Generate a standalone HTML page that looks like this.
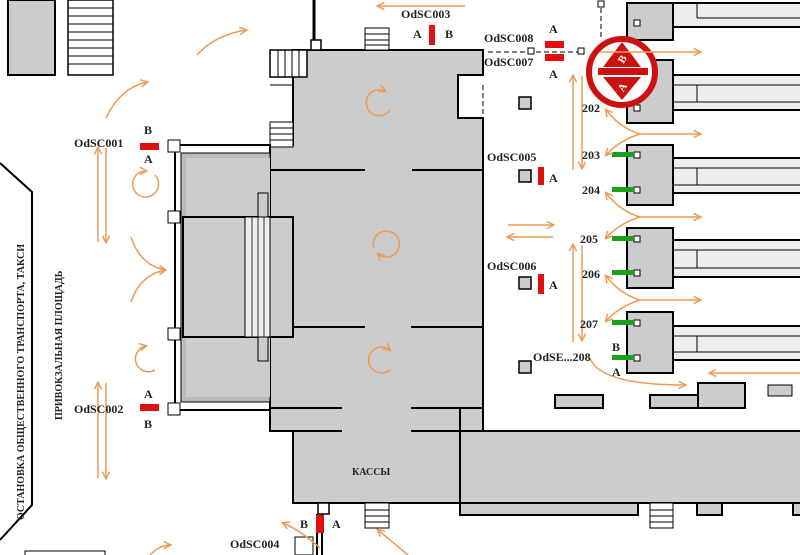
<!DOCTYPE html>
<html><head><meta charset="utf-8"><style>
html,body{margin:0;padding:0;background:#fff;width:800px;height:555px;overflow:hidden}
text{font-family:"Liberation Serif","DejaVu Serif",serif;font-weight:bold;fill:#222}
</style></head><body>
<svg width="800" height="555" viewBox="0 0 800 555" xmlns="http://www.w3.org/2000/svg">
<defs>
<marker id="ah" viewBox="0 0 10 10" refX="8" refY="5" markerWidth="6" markerHeight="6" orient="auto-start-reverse"><path d="M1,1 L9,5 L1,9" fill="none" stroke="#ee9a55" stroke-width="1.6"/></marker>
</defs>
<g stroke="#000" stroke-width="2">
<!-- top-left -->
<rect x="8" y="0" width="47" height="75" fill="#ccc"/>
<rect x="68" y="0" width="45" height="75" fill="#fff" stroke-width="1.5"/>
<g stroke-width="1">
<line x1="68" y1="8" x2="113" y2="8"/><line x1="68" y1="16" x2="113" y2="16"/><line x1="68" y1="24" x2="113" y2="24"/><line x1="68" y1="32" x2="113" y2="32"/><line x1="68" y1="40" x2="113" y2="40"/><line x1="68" y1="48" x2="113" y2="48"/><line x1="68" y1="56" x2="113" y2="56"/><line x1="68" y1="64" x2="113" y2="64"/></g>
<polyline points="0,163 32,192 32,505 0,540" fill="none"/>
<!-- main building -->
<polygon points="293,50 483,50 483,75 458,75 458,118 483,118 483,431 460,431 460,503 293,503 293,431 270,431 270,145 293,145" fill="#ccc"/>
<!-- lower right block -->
<rect x="460" y="431" width="345" height="72" fill="#ccc"/>
<line x1="460" y1="408" x2="460" y2="503"/>
<rect x="460" y="503" width="178" height="12" fill="#ccc"/>
<rect x="697" y="503" width="25" height="12" fill="#ccc"/>
<rect x="793" y="503" width="10" height="12" fill="#ccc"/>
<!-- interior lines -->
<line x1="270" y1="170" x2="365" y2="170"/><line x1="412" y1="170" x2="483" y2="170"/>
<line x1="293" y1="327" x2="365" y2="327"/><line x1="411" y1="327" x2="483" y2="327"/>
<line x1="270" y1="408" x2="342" y2="408"/><line x1="411" y1="408" x2="483" y2="408"/>
<line x1="270" y1="431" x2="342" y2="431"/><line x1="411" y1="431" x2="460" y2="431"/>
<!-- top stairs of building -->
<rect x="270" y="50" width="37" height="27" fill="#fff" stroke-width="1.5"/>
<g stroke-width="1"><line x1="278" y1="50" x2="278" y2="77"/><line x1="285" y1="50" x2="285" y2="77"/><line x1="292" y1="50" x2="292" y2="77"/><line x1="299" y1="50" x2="299" y2="77"/><line x1="270" y1="85" x2="293" y2="85"/></g>
<rect x="270" y="122" width="23" height="25" fill="#fff" stroke-width="1"/>
<g stroke-width="1"><line x1="270" y1="128" x2="293" y2="128"/><line x1="270" y1="134" x2="293" y2="134"/><line x1="270" y1="140" x2="293" y2="140"/></g>
<line x1="314" y1="0" x2="314" y2="40" stroke-width="3"/>
<rect x="311" y="40" width="10" height="10" fill="#fff" stroke-width="1.5"/>
<rect x="365" y="28" width="24" height="22" fill="#fff" stroke-width="1"/>
<g stroke-width="1"><line x1="365" y1="34" x2="389" y2="34"/><line x1="365" y1="40" x2="389" y2="40"/><line x1="365" y1="45" x2="389" y2="45"/></g>
<!-- left plaza hall -->
<rect x="175" y="145" width="95" height="265" fill="#fff"/>
<rect x="181" y="153" width="89" height="249" fill="#bbb" stroke-width="1"/>
<rect x="186" y="158" width="84" height="239" fill="#ccc" stroke="none"/>
<rect x="183" y="217" width="110" height="120" fill="#ccc"/>
<rect x="245" y="217" width="25" height="120" fill="#eee" stroke-width="1"/>
<g stroke-width="0.8"><line x1="252" y1="217" x2="252" y2="337"/><line x1="258" y1="217" x2="258" y2="337"/><line x1="264" y1="217" x2="264" y2="337"/></g>
<rect x="258" y="193" width="10" height="24" fill="#ccc" stroke-width="1"/>
<rect x="258" y="337" width="10" height="24" fill="#ccc" stroke-width="1"/>
<g fill="#fff" stroke-width="1">
<rect x="168" y="140" width="12" height="12"/><rect x="168" y="211" width="12" height="12"/><rect x="168" y="328" width="12" height="12"/><rect x="168" y="403" width="12" height="12"/>
</g>
<!-- bottom stairs -->
<rect x="318" y="503" width="11" height="11" fill="#fff" stroke-width="1.5"/>
<line x1="317" y1="514" x2="317" y2="555"/><line x1="322" y1="514" x2="322" y2="555"/>
<rect x="365" y="503" width="24" height="25" fill="#fff" stroke-width="1"/>
<g stroke-width="1"><line x1="365" y1="510" x2="389" y2="510"/><line x1="365" y1="516" x2="389" y2="516"/><line x1="365" y1="522" x2="389" y2="522"/></g>
<rect x="650" y="503" width="23" height="25" fill="#fff" stroke-width="1"/>
<g stroke-width="1"><line x1="650" y1="510" x2="673" y2="510"/><line x1="650" y1="516" x2="673" y2="516"/><line x1="650" y1="522" x2="673" y2="522"/></g>
<rect x="295" y="537" width="18" height="18" fill="#fff" stroke-width="1"/>
<rect x="25" y="551" width="80" height="6" fill="#fff" stroke-width="1"/>
<!-- small squares -->
<g fill="#ccc" stroke-width="1.5">
<rect x="519" y="97" width="12" height="12"/><rect x="519" y="170" width="12" height="12"/><rect x="519" y="277" width="12" height="12"/><rect x="519" y="361" width="12" height="12"/>
</g>
<!-- platforms -->
<g>
<rect x="660" y="3" width="150" height="24" fill="#eee"/><rect x="627" y="3" width="46" height="37" fill="#ccc"/>
<rect x="660" y="75" width="150" height="35" fill="#eee"/><rect x="627" y="60" width="46" height="63" fill="#ccc"/>
<rect x="660" y="158" width="150" height="35" fill="#eee"/><rect x="627" y="145" width="46" height="60" fill="#ccc"/>
<rect x="660" y="240" width="150" height="37" fill="#eee"/><rect x="627" y="228" width="46" height="60" fill="#ccc"/>
<rect x="660" y="326" width="150" height="34" fill="#eee"/><rect x="627" y="312" width="46" height="61" fill="#ccc"/>
</g>
<g stroke-width="1">
<line x1="697" y1="3" x2="697" y2="18"/><line x1="697" y1="18" x2="800" y2="18"/>
<line x1="697" y1="85" x2="697" y2="102"/><line x1="673" y1="85" x2="800" y2="85"/><line x1="673" y1="102" x2="800" y2="102"/>
<line x1="697" y1="168" x2="697" y2="185"/><line x1="673" y1="168" x2="800" y2="168"/><line x1="673" y1="185" x2="800" y2="185"/>
<line x1="697" y1="250" x2="697" y2="268"/><line x1="673" y1="250" x2="800" y2="250"/><line x1="673" y1="268" x2="800" y2="268"/>
<line x1="697" y1="336" x2="697" y2="352"/><line x1="673" y1="336" x2="800" y2="336"/><line x1="673" y1="352" x2="800" y2="352"/>
</g>
<g fill="#fff" stroke-width="1">
<rect x="634" y="20" width="6" height="6"/><rect x="634" y="105" width="6" height="6"/><rect x="634" y="152" width="6" height="6"/><rect x="634" y="187" width="6" height="6"/><rect x="634" y="236" width="6" height="6"/><rect x="634" y="270" width="6" height="6"/><rect x="634" y="320" width="6" height="6"/><rect x="634" y="355" width="6" height="6"/>
</g>
<!-- bottom bars -->
<g fill="#ccc">
<rect x="555" y="395" width="48" height="13"/><rect x="650" y="395" width="48" height="13"/><rect x="698" y="383" width="47" height="25"/><rect x="768" y="385" width="24" height="11" stroke-width="1"/>
</g>
</g>
<!-- dashed -->
<line x1="488" y1="52" x2="580" y2="52" stroke="#000" stroke-width="1" stroke-dasharray="5,3"/>
<line x1="601" y1="8" x2="601" y2="40" stroke="#000" stroke-width="1" stroke-dasharray="5,3"/>
<line x1="483" y1="85" x2="483" y2="118" stroke="#000" stroke-width="1" stroke-dasharray="5,3"/>
<rect x="528" y="48" width="6" height="6" fill="#fff" stroke="#000"/><rect x="578" y="48" width="6" height="6" fill="#fff" stroke="#000"/><rect x="598" y="1" width="6" height="6" fill="#fff" stroke="#000"/>
<!-- red markers -->
<g fill="#e01010">
<rect x="140" y="143" width="19" height="7"/><rect x="140" y="404" width="19" height="7"/>
<rect x="429" y="25" width="6" height="20"/><rect x="545" y="41" width="19" height="7"/><rect x="545" y="54" width="19" height="7"/>
<rect x="538" y="167" width="6" height="18"/><rect x="538" y="274" width="6" height="20"/><rect x="316" y="515" width="8" height="18"/>
</g>
<g fill="#1aa01a">
<rect x="612" y="152" width="22" height="5"/><rect x="612" y="187" width="22" height="5"/><rect x="612" y="236" width="22" height="5"/><rect x="612" y="270" width="22" height="5"/><rect x="612" y="320" width="22" height="5"/><rect x="612" y="355" width="22" height="5"/>
</g>
<!-- red circle icon -->
<circle cx="622" cy="72" r="33" fill="#fff" stroke="#cc1111" stroke-width="6"/>
<polygon points="622,42 641,67 603,67" fill="#cc1111"/>
<polygon points="622,100 641,77 603,77" fill="#cc1111"/>
<rect x="598" y="68" width="50" height="7" fill="#cc1111"/>
<text x="622" y="63" font-size="11" fill="#fff" style="fill:#fff" text-anchor="middle" transform="rotate(-60 622 59)">B</text>
<text x="622" y="91" font-size="11" style="fill:#fff" text-anchor="middle" transform="rotate(-60 622 87)">A</text>
<!-- orange arrows -->
<g fill="none" stroke="#ee9a55" stroke-width="1.5" marker-end="url(#ah)">
<path d="M197,55 Q215,35 246,30"/>
<path d="M106,118 Q120,88 147,82"/>
<line x1="98" y1="242" x2="98" y2="148"/><line x1="106" y1="148" x2="106" y2="242"/>
<line x1="98" y1="478" x2="98" y2="383"/><line x1="106" y1="383" x2="106" y2="478"/>
<path d="M155,175 A13,13 0 1,1 146,171" />
<path d="M155,370 A13,13 0 1,1 146,346" />
<path d="M131,237 Q140,265 165,270"/>
<path d="M131,302 Q140,275 165,270"/>
<path d="M390,110 A13,13 0 1,1 385,91"/>
<path d="M374,248 A13,13 0 1,1 378,254"/>
<path d="M390,370 A13,13 0 1,1 390,350"/>
<line x1="465" y1="6" x2="378" y2="6"/>
<line x1="508" y1="225" x2="553" y2="225"/><line x1="553" y1="237" x2="508" y2="237"/>
<line x1="573" y1="170" x2="573" y2="76"/><line x1="582" y1="76" x2="582" y2="168"/>
<line x1="573" y1="342" x2="573" y2="245"/><line x1="582" y1="245" x2="582" y2="340"/>
<path d="M640,134 Q620,128 606,110"/><path d="M640,134 Q620,140 606,155"/><line x1="640" y1="134" x2="700" y2="134"/>
<path d="M640,217 Q620,211 606,193"/><path d="M640,217 Q620,223 606,238"/><line x1="640" y1="217" x2="700" y2="217"/>
<path d="M640,300 Q620,294 606,276"/><path d="M640,300 Q620,306 606,321"/><line x1="640" y1="300" x2="700" y2="300"/>
<path d="M590,358 Q600,385 685,385"/>
<line x1="800" y1="373" x2="710" y2="373"/>
<line x1="600" y1="52" x2="700" y2="52"/>
<path d="M320,548 Q300,530 283,523"/>
<path d="M408,555 Q390,540 378,530"/>
<path d="M150,555 Q160,545 170,545"/>
</g>
<!-- labels -->
<g font-size="12">
<text x="74" y="147">OdSC001</text><text x="144" y="134">B</text><text x="144" y="163">A</text>
<text x="74" y="413">OdSC002</text><text x="144" y="398">A</text><text x="144" y="428">B</text>
<text x="401" y="18">OdSC003</text><text x="413" y="38">A</text><text x="445" y="38">B</text>
<text x="484" y="42">OdSC008</text><text x="484" y="66">OdSC007</text><text x="549" y="33">A</text><text x="549" y="78">A</text>
<text x="487" y="161">OdSC005</text><text x="549" y="182">A</text>
<text x="487" y="270">OdSC006</text><text x="549" y="289">A</text>
<text x="533" y="361">OdSE...208</text><text x="612" y="351">B</text><text x="612" y="376">A</text>
<text x="582" y="112">202</text><text x="582" y="159">203</text><text x="582" y="194">204</text><text x="580" y="243">205</text><text x="582" y="278">206</text><text x="580" y="328">207</text>
<text x="230" y="548">OdSC004</text><text x="300" y="528">B</text><text x="332" y="528">A</text>
<text x="352" y="475" font-size="10">КАССЫ</text>
<text x="0" y="0" font-size="10" transform="translate(24,520) rotate(-90)">ОСТАНОВКА ОБЩЕСТВЕННОГО ТРАНСПОРТА, ТАКСИ</text>
<text x="0" y="0" font-size="10" transform="translate(62,420) rotate(-90)">ПРИВОКЗАЛЬНАЯ ПЛОЩАДЬ</text>
</g>
</svg>
</body></html>
